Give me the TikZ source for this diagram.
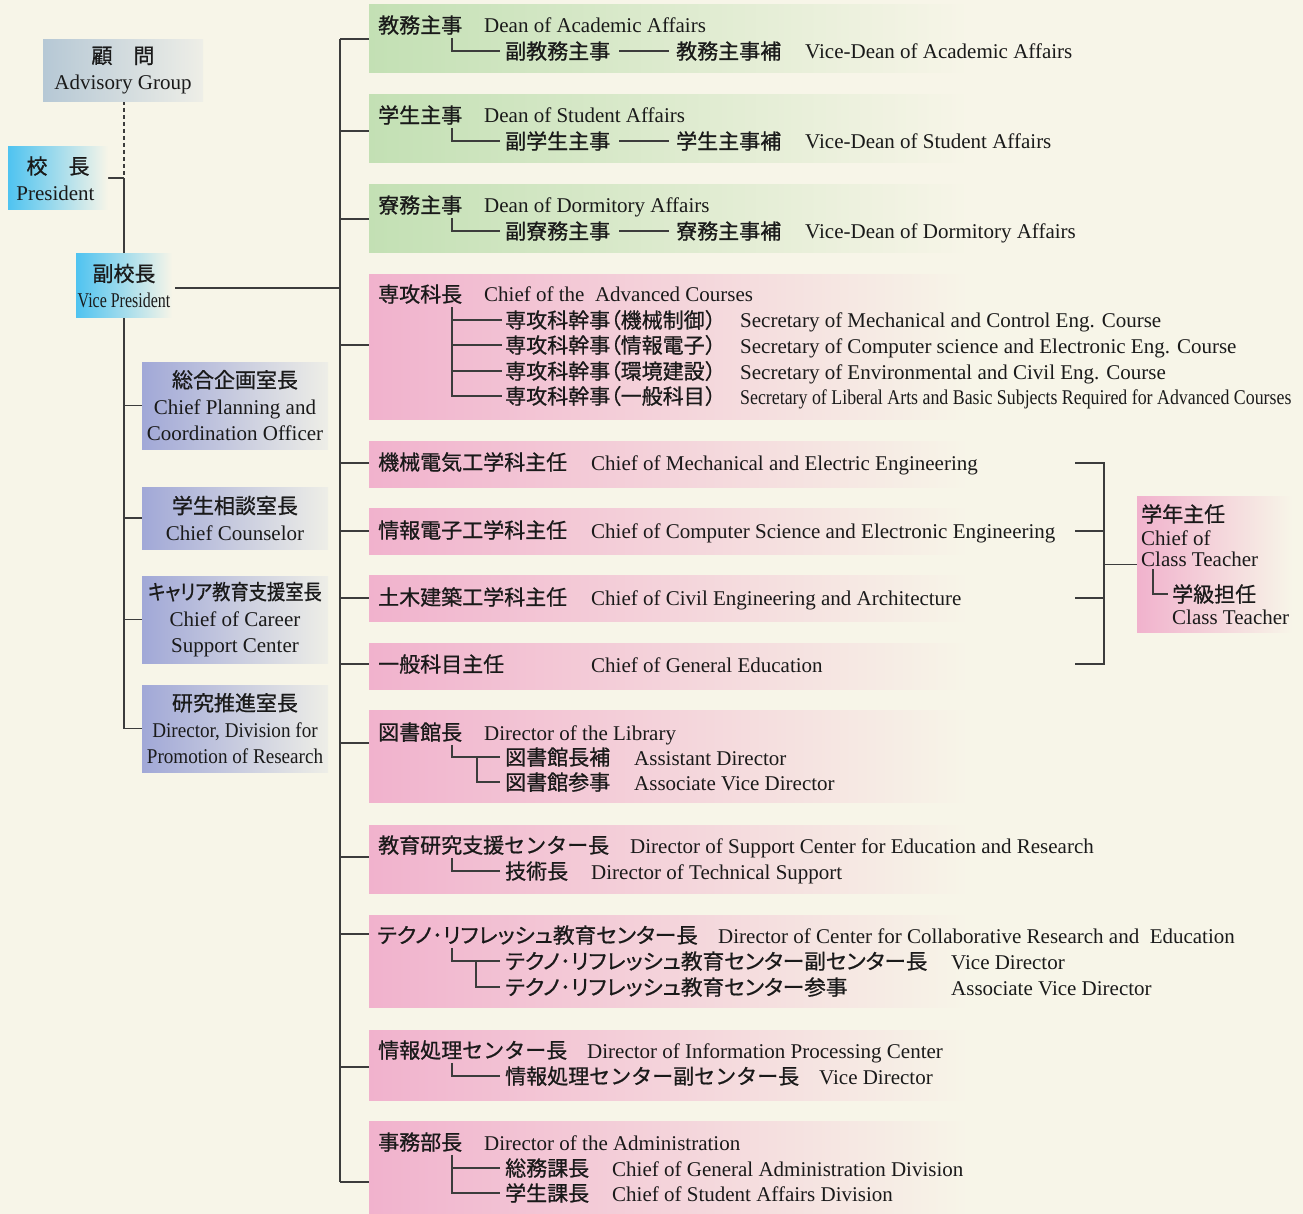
\documentclass[tikz,border=0pt]{standalone}
\usepackage{fontspec}
\usepackage{graphicx}
\setmainfont{Liberation Serif}
\newfontfamily\jpf[FakeBold=0.8]{Noto Sans CJK JP}
\newfontfamily\jpp[FakeBold=0.8,RawFeature=+palt]{Noto Sans CJK JP}
\usetikzlibrary{calc}
\definecolor{bg}{HTML}{F7F5E8}
\definecolor{grn}{HTML}{C3E0B4}
\definecolor{pnk}{HTML}{F1B2CD}
\definecolor{lav}{HTML}{A1A8D7}
\definecolor{cya}{HTML}{4FC3F0}
\definecolor{advc}{HTML}{B6C8D5}
\definecolor{boxr}{HTML}{EEEEE7}
\definecolor{txtc}{HTML}{1A1A1A}
\definecolor{linec}{HTML}{3C3C3C}
\newcommand{\op}{{\jpp （}}
\begin{document}
\begin{tikzpicture}[x=1pt,y=-1pt,
  ln/.style={draw=linec, line width=1.2pt},
  band/.style={anchor=north west, minimum width=600pt, inner sep=0pt, draw=none},
  gband/.style={band, left color=grn, middle color=grn!55!bg, right color=bg},
  pband/.style={band, left color=pnk, middle color=pnk!55!bg, right color=bg},
  en/.style={anchor=base west, inner sep=0pt, text=txtc, font=\fontsize{21pt}{26pt}\selectfont},
  jp/.style={anchor=base west, inner sep=0pt, text=txtc, font=\fontsize{21pt}{26pt}\selectfont\jpf},
  jpk/.style={anchor=base west, inner sep=0pt, text=txtc, font=\fontsize{21pt}{26pt}\selectfont\jpp},
  lbox/.style={inner sep=0pt, align=center, text=txtc, font=\fontsize{21pt}{26.5pt}\selectfont}
]
\fill[bg] (0,0) rectangle (1303,1214);
\useasboundingbox (0,0) rectangle (1303,1214);

% ---------- bands ----------
\node[gband, minimum height=68pt] (B1) at (369,4) {};
\node[gband, minimum height=68pt] (B2) at (369,94) {};
\node[gband, minimum height=68pt] (B3) at (369,184) {};
\node[pband, minimum height=145pt] (B4) at (369,274) {};
\node[pband, minimum height=46pt] (B5) at (369,441) {};
\node[pband, minimum height=46pt] (B6) at (369,508) {};
\node[pband, minimum height=46pt] (B7) at (369,575) {};
\node[pband, minimum height=46pt] (B8) at (369,643) {};
\node[pband, minimum height=92pt] (B9) at (369,710) {};
\node[pband, minimum height=68pt] (B10) at (369,825) {};
\node[pband, minimum height=92pt] (B11) at (369,915) {};
\node[pband, minimum height=70pt] (B12) at (369,1030) {};
\node[pband, minimum height=93pt] (B13) at (369,1121) {};

% ---------- trunk ----------
\coordinate (T0) at (340,39);
\coordinate (T1) at (340,1182);
\draw[ln] (T0) -- (T1);
\foreach \b/\yy in {B1/39,B2/131,B3/219,B4/345,B5/463,B6/531,B7/598,B8/664,B9/743,B10/857,B11/934,B12/1067,B13/1182}
  \draw[ln] (340,\yy) -- (\b.west |- 340,\yy);

% ---------- left column lines ----------
\coordinate (PJ) at (124,178);
\coordinate (LB) at (124,729);
\draw[draw=linec, line width=1.2pt, dash pattern=on 4pt off 3pt] (124,101) -- (PJ);
\draw[ln] (PJ) -- (LB);
\draw[ln] (108,178) -- (PJ);
\draw[ln] (175,288) -- (340,288);

% ---------- left boxes ----------
\node[lbox, left color=advc, right color=boxr, minimum width=160pt, minimum height=62pt] (adv) at (123,70.5) {{\jpf 顧　問}\\Advisory Group};
\node[lbox, left color=cya, right color=bg, minimum width=100pt, minimum height=63pt] (pres) at (58,178.5) {{\jpf 校　長}\\\hspace*{-5pt}President};
\node[lbox, left color=cya, right color=bg, minimum width=96pt, minimum height=64pt] (vp) at (124,286) {{\jpf 副校長}\\\scalebox{0.76}[1]{Vice President}};
\node[lbox, left color=lav, right color=boxr, minimum width=186pt, minimum height=87pt] (L1) at (235,405.5) {{\jpf 総合企画室長}\\Chief Planning and\\Coordination Officer};
\node[lbox, left color=lav, right color=boxr, minimum width=186pt, minimum height=62pt] (L2) at (235,518) {{\jpf 学生相談室長}\\Chief Counselor};
\node[lbox, left color=lav, right color=boxr, minimum width=186pt, minimum height=87pt] (L3) at (235,619.5) {\scalebox{0.87}[1]{\jpp キャリア教育支援室長}\\Chief of Career\\Support Center};
\node[lbox, left color=lav, right color=boxr, minimum width=186pt, minimum height=87pt] (L4) at (235,728.5) {{\jpf 研究推進室長}\\\scalebox{0.91}[1]{Director, Division for}\\\scalebox{0.91}[1]{Promotion of Research}};
\foreach \n in {L1,L2,L3,L4} \draw[ln] (LB |- \n.west) -- (\n.west);

% ---------- band 1-3 ----------
\node[jp] (P1) at (378,33) {教務主事};
\node[en] (E1) at (484,33) {Dean of Academic Affairs};
\node[jp] (C1) at (505,59) {副教務主事};
\node[jp] (D1) at (676,59) {教務主事補};
\node[en] (F1) at (805,59) {Vice-Dean of Academic Affairs};

\node[jp] (P2) at (378,123) {学生主事};
\node[en] (E2) at (484,123) {Dean of Student Affairs};
\node[jp] (C2) at (505,149) {副学生主事};
\node[jp] (D2) at (676,149) {学生主事補};
\node[en] (F2) at (805,149) {Vice-Dean of Student Affairs};

\node[jp] (P3) at (378,213) {寮務主事};
\node[en] (E3) at (484,213) {Dean of Dormitory Affairs};
\node[jp] (C3) at (505,239) {副寮務主事};
\node[jp] (D3) at (676,239) {寮務主事補};
\node[en] (F3) at (805,239) {Vice-Dean of Dormitory Affairs};

\foreach \i in {1,2,3} {
  \draw[ln] ($(P\i.south west)+(74,3)$) |- ($(C\i.west)+(-5,0)$);
  \draw[ln] ($(C\i.east)+(9,0)$) -- ($(D\i.west)+(-7,0)$);
}

% ---------- band 4 ----------
\node[jp] (P4) at (378,302) {専攻科長};
\node[en] (E4) at (484,302) {Chief of the\ \ Advanced Courses};
\node[jp] (C4a) at (505,328) {専攻科幹事\op 機械制御）};
\node[jp] (C4b) at (505,353) {専攻科幹事\op 情報電子）};
\node[jp] (C4c) at (505,379) {専攻科幹事\op 環境建設）};
\node[jp] (C4d) at (505,404) {専攻科幹事\op 一般科目）};
\node[en] (E4a) at (740,328) {Secretary of Mechanical and Control Eng. Course};
\node[en] (E4b) at (740,353) {Secretary of Computer science and Electronic Eng. Course};
\node[en] (E4c) at (740,379) {Secretary of Environmental and Civil Eng. Course};
\node[en] (E4d) at (740,404) {\scalebox{0.85}[1]{Secretary of Liberal Arts and Basic Subjects Required for Advanced Courses}};
\coordinate (V4) at ($(P4.south west)+(74,3)$);
\draw[ln] (V4) |- ($(C4d.west)+(-3,0)$);
\foreach \c in {C4a,C4b,C4c} \draw[ln] (V4 |- \c.west) -- ($(\c.west)+(-3,0)$);

% ---------- bands 5-8 ----------
\node[jp] (P5) at (378,470) {機械電気工学科主任};
\node[en] (E5) at (591,470) {Chief of Mechanical and Electric Engineering};
\node[jp] (P6) at (378,538) {情報電子工学科主任};
\node[en] (E6) at (591,538) {Chief of Computer Science and Electronic Engineering};
\node[jp] (P7) at (378,605) {土木建築工学科主任};
\node[en] (E7) at (591,605) {Chief of Civil Engineering and Architecture};
\node[jp] (P8) at (378,672) {一般科目主任};
\node[en] (E8) at (591,672) {Chief of General Education};

% ---------- band 9 ----------
\node[jp] (P9) at (378,740) {図書館長};
\node[en] (E9) at (484,740) {Director of the Library};
\node[jp] (C9a) at (505,765) {図書館長補};
\node[en] (E9a) at (634,765) {Assistant Director};
\node[jp] (C9b) at (505,790) {図書館参事};
\node[en] (E9b) at (634,790) {Associate Vice Director};
\coordinate (V9) at ($(P9.south west)+(74,3)$);
\draw[ln] (V9) |- ($(C9a.west)+(-5,0)$);
\coordinate (V9b) at ($(V9 |- C9a.west)+(25,0)$);
\draw[ln] (V9b) |- ($(C9b.west)+(-5,0)$);

% ---------- band 10 ----------
\node[jp] (P10) at (378,853) {教育研究支援センター長};
\node[en] (E10) at (630,853) {Director of Support Center for Education and Research};
\node[jp] (C10) at (505,879) {技術長};
\node[en] (E10a) at (591,879) {Director of Technical Support};
\draw[ln] ($(P10.south west)+(74,3)$) |- ($(C10.west)+(-5,0)$);

% ---------- band 11 ----------
\node[jpk] (P11) at (377,943) {\scalebox{1.03}[1]{テクノ･リフレッシュ教育センター長}};
\node[en] (E11) at (718,943) {Director of Center for Collaborative Research and\ \ Education};
\node[jpk] (C11a) at (505,969) {\scalebox{1.03}[1]{テクノ･リフレッシュ教育センター副センター長}};
\node[en] (E11a) at (951,969) {Vice Director};
\node[jpk] (C11b) at (505,995) {\scalebox{1.03}[1]{テクノ･リフレッシュ教育センター参事}};
\node[en] (E11b) at (951,995) {Associate Vice Director};
\coordinate (V11) at ($(P11.south west)+(75,3)$);
\draw[ln] (V11) |- ($(C11a.west)+(-5,0)$);
\coordinate (V11b) at ($(V11 |- C11a.west)+(24,0)$);
\draw[ln] (V11b) |- ($(C11b.west)+(-5,0)$);

% ---------- band 12 ----------
\node[jp] (P12) at (378,1058) {情報処理センター長};
\node[en] (E12) at (587,1058) {Director of Information Processing Center};
\node[jp] (C12) at (505,1084) {情報処理センター副センター長};
\node[en] (E12a) at (819,1084) {Vice Director};
\draw[ln] ($(P12.south west)+(74,3)$) |- ($(C12.west)+(-5,0)$);

% ---------- band 13 ----------
\node[jp] (P13) at (378,1150) {事務部長};
\node[en] (E13) at (484,1150) {Director of the Administration};
\node[jp] (C13a) at (505,1176) {総務課長};
\node[en] (E13a) at (612,1176) {Chief of General Administration Division};
\node[jp] (C13b) at (505,1201) {学生課長};
\node[en] (E13b) at (612,1201) {Chief of Student Affairs Division};
\coordinate (V13) at ($(P13.south west)+(74,3)$);
\draw[ln] (V13) |- ($(C13b.west)+(-5,0)$);
\draw[ln] (V13 |- C13a.west) -- ($(C13a.west)+(-5,0)$);

% ---------- class teacher box ----------
\node[band, left color=pnk, middle color=pnk!55!bg, right color=bg, minimum width=155pt, minimum height=136pt] (G) at (1137,496) {};
\node[jp] (G1) at (1141,522) {学年主任};
\node[en] (G2) at (1141,545) {Chief of};
\node[en] (G3) at (1141,566) {Class Teacher};
\node[jp] (G4) at (1172,602) {学級担任};
\node[en] (G5) at (1172,624) {Class Teacher};
\draw[ln] ($(G3.south west)+(12,3)$) |- ($(G4.west)+(-4,0)$);

\coordinate (BR0) at (1104,463);
\coordinate (BR1) at (1104,664);
\draw[ln] (1075,463) -- (BR0) -- (BR1) -- (1075,664);
\draw[ln] (1075,531) -- (1104,531);
\draw[ln] (1075,598) -- (1104,598);
\draw[ln] (G.west -| BR0) -- (G.west);
\end{tikzpicture}
\end{document}
